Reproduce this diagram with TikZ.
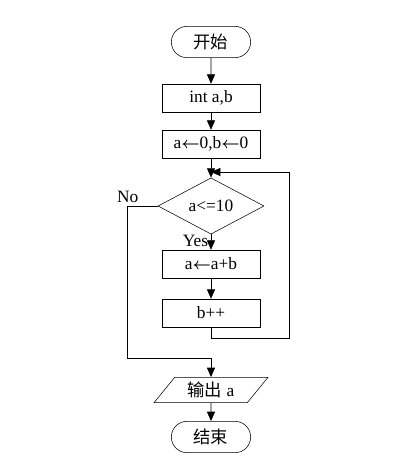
\documentclass[tikz,border=0pt]{standalone}
\usepackage{fontspec}
\setmainfont{Liberation Serif}
\newfontfamily\cjk{Noto Sans CJK SC}
\usetikzlibrary{arrows.meta, shapes.geometric, shapes.misc}

\tikzset{
    base/.style={draw, thin, font=\fontsize{13}{15}\selectfont, inner sep=1pt},
    term/.style={base, rounded rectangle, minimum width=61.5pt, minimum height=23.5pt},
    proc/.style={base, rectangle, minimum width=73.5pt, minimum height=21pt},
    cond/.style={base, diamond, minimum width=79.5pt, minimum height=32.5pt, inner sep=0pt},
    io/.style={base, trapezium, trapezium left angle=53, trapezium right angle=127,
        trapezium stretches=true, minimum width=85.5pt, minimum height=19pt},
    lbl/.style={inner sep=2pt, font=\fontsize{13}{15}\selectfont},
    arr/.style={-{Triangle[length=7pt,width=6pt]}, thin}
}

\begin{document}
\begin{tikzpicture}[x=0.75pt,y=-0.75pt]
    \useasboundingbox (0,0) rectangle (408,469);
    \node[term] (start) at (211,42) {\cjk 开始};
    \node[proc] (decl) at (211,98) {int a,b};
    \node[proc] (init) at (211,144) {a{\boldmath$\leftarrow$}0,b{\boldmath$\leftarrow$}0};
    \node[cond] (test) at (211,206) {a<=10};
    \node[proc] (add) at (211,264) {a{\boldmath$\leftarrow$}a+b};
    \node[proc] (incr) at (211,313) {b++};
    \node[io] (out) at (211,390) {{\cjk 输出} a};
    \node[term] (stop) at (211,437) {\cjk 结束};
    \coordinate (join) at (211,172);
    \coordinate (merge) at (211,358);
    % main flow
    \draw[arr] (start) -- (decl);
    \draw[arr] (decl) -- (init);
    \draw[arr] (init) -- (test);
    \draw[arr] (test) -- node[left, pos=0.45, lbl] {Yes} (add);
    \draw[arr] (add) -- (incr);
    \draw[arr] (out) -- (stop);
    % loop back
    \draw[arr] (incr.south) -- ++(0,11) -| (289,172) -- (join);
    % exit
    \draw[arr] (test.west) -- ++(-30,0) node[above, lbl] {No} |- (merge) -- (out);
\end{tikzpicture}
\end{document}
